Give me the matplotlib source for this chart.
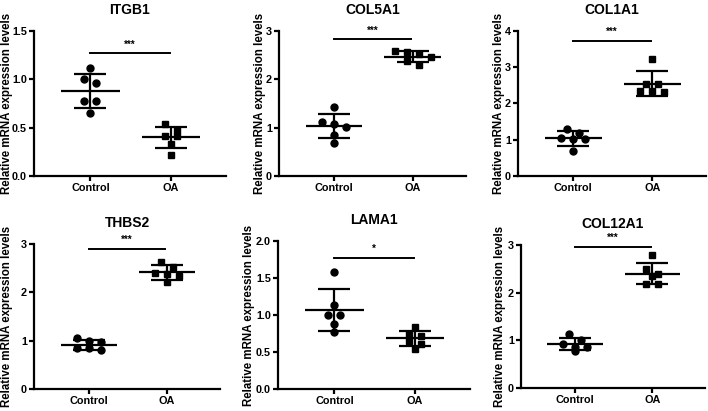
import numpy as np
import matplotlib.pyplot as plt
from matplotlib.ticker import FormatStrFormatter

plt.rcParams['font.family'] = ['Liberation Sans', 'DejaVu Sans']
plt.rcParams['font.weight'] = 'bold'
plt.rcParams['axes.labelweight'] = 'bold'

W, H = 708, 411

genes = ["ITGB1", "COL5A1", "COL1A1", "THBS2", "LAMA1", "COL12A1"]
groups = ["Control", "OA"]

itgb1_control = [1.12, 1.00, 0.96, 0.78, 0.78, 0.65]
itgb1_oa = [0.54, 0.48, 0.41, 0.41, 0.33, 0.22]
col5a1_control = [1.42, 1.12, 1.08, 1.01, 0.85, 0.69]
col5a1_oa = [2.59, 2.56, 2.52, 2.46, 2.37, 2.29]
col1a1_control = [1.31, 1.18, 1.04, 1.01, 1.01, 0.69]
col1a1_oa = [3.24, 2.53, 2.53, 2.35, 2.34, 2.31]
thbs2_control = [1.06, 1.00, 0.97, 0.84, 0.84, 0.80]
thbs2_oa = [2.63, 2.52, 2.40, 2.38, 2.33, 2.21]
lama1_control = [1.58, 1.14, 1.00, 1.00, 0.88, 0.77]
lama1_oa = [0.84, 0.74, 0.72, 0.65, 0.61, 0.54]
col12a1_control = [1.13, 1.00, 0.92, 0.87, 0.86, 0.78]
col12a1_oa = [2.78, 2.49, 2.39, 2.34, 2.19, 2.19]

control_values = [itgb1_control, col5a1_control, col1a1_control,
                  thbs2_control, lama1_control, col12a1_control]
oa_values = [itgb1_oa, col5a1_oa, col1a1_oa, thbs2_oa, lama1_oa, col12a1_oa]

stars = ["***", "***", "***", "***", "*", "***"]
sig_level = [1.27, 2.83, 3.73, 2.90, 1.77, 2.96]
y_max = [1.5, 3, 4, 3, 2.0, 3]
y_step = [0.5, 1, 1, 1, 0.5, 1]

# plot areas in pixels: left, right, top, bottom
boxes = [(34, 226, 31, 176), (279, 466, 31, 176), (518, 706, 31, 176),
         (34, 220, 244, 389), (278, 470, 241, 389), (521, 705, 245, 388)]
# x pixel of the right edge of each y label
label_x = [13, 266, 505, 13, 255, 506]


def dot_rows(ax, xc, ys, step=12.0, row_h=6.5):
    # group points of near equal height into rows and spread each row sideways
    pts = ax.transData.transform(np.column_stack([np.full(len(ys), xc), ys]))
    order = np.argsort(-np.asarray(ys))
    xs = np.zeros(len(ys))
    row = []
    rows = []
    for idx in order:
        if row and abs(pts[idx, 1] - pts[row[0], 1]) >= row_h:
            rows.append(row)
            row = []
        row.append(idx)
    rows.append(row)
    for row in rows:
        n = len(row)
        for k, idx in enumerate(row):
            xs[idx] = pts[idx, 0] + (k - (n - 1) / 2) * step
    back = ax.transData.inverted().transform(np.column_stack([xs, pts[:, 1]]))
    return back[:, 0]


fig = plt.figure(figsize=(W / 100, H / 100), dpi=100)

for i, gene in enumerate(genes):
    l, r, t, b = boxes[i]
    ax = fig.add_axes([l / W, 1 - b / H, (r - l) / W, (b - t) / H])
    ax.set_xlim(-0.7, 1.68)
    ax.set_ylim(0, y_max[i])

    for j, (vals, mk) in enumerate([(control_values[i], 'o'), (oa_values[i], 's')]):
        vals = np.array(vals)
        xs = dot_rows(ax, j, vals)
        ax.plot(xs, vals, mk, color='black', ms=5.0 if mk == 'o' else 4.6,
                zorder=3, clip_on=False)
        m = vals.mean()
        sd = vals.std(ddof=1)
        ax.hlines(m, j - 0.36, j + 0.36, color='black', lw=1.6, zorder=4)
        ax.errorbar(j, m, yerr=sd, fmt='none', ecolor='black', elinewidth=1.6,
                    capsize=11.5, capthick=1.6, zorder=4)

    ax.plot([0, 0.98], [sig_level[i], sig_level[i]], color='black', lw=1.4)
    ax.text(0.49, sig_level[i] + y_max[i] * 0.025, stars[i], ha='center', va='bottom',
            fontsize=7, fontweight='bold')

    ax.set_xticks([0, 1])
    ax.set_xticklabels(groups)
    ax.set_yticks(np.arange(0, y_max[i] + 1e-9, y_step[i]))
    if y_step[i] < 1:
        ax.yaxis.set_major_formatter(FormatStrFormatter('%.1f'))
    else:
        ax.yaxis.set_major_formatter(FormatStrFormatter('%d'))

    for side in ['top', 'right']:
        ax.spines[side].set_visible(False)
    for side in ['left', 'bottom']:
        ax.spines[side].set_linewidth(1.6)
    ax.tick_params(axis='both', width=1.6, length=3.5, labelsize=7.8, pad=1.5)
    for lab in ax.get_xticklabels() + ax.get_yticklabels():
        lab.set_fontweight('bold')

    ax.set_title(gene, fontsize=10, fontweight='bold', pad=12.5)
    ax.set_ylabel("Relative mRNA expression levels", fontsize=8.3, fontweight='bold')
    ax.yaxis.set_label_coords(-(l - label_x[i]) / (r - l), 0.5)

fig.savefig("out.png", dpi=100)
